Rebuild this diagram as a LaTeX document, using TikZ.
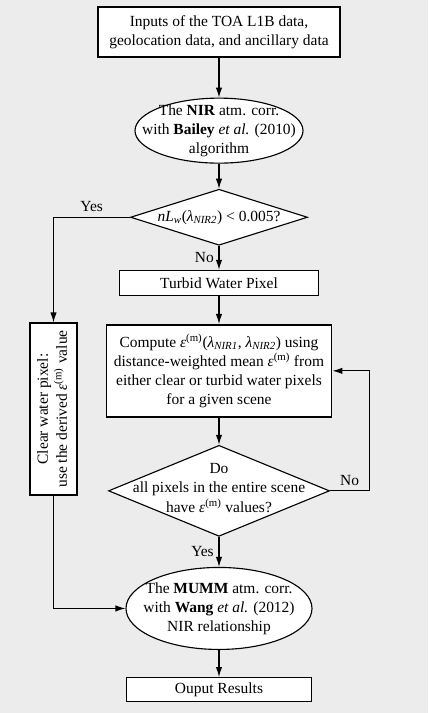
\documentclass[tikz,border=0pt]{standalone}
\usepackage{fontspec}
\setmainfont{Liberation Serif}
\usepackage{graphicx}
\usetikzlibrary{arrows.meta,positioning,shapes.geometric}
\newcommand{\epsm}{\textit{ε}\textsuperscript{(m)}}
\newcommand{\lnir}[1]{\textit{λ}\textsubscript{\textit{NIR#1}}}
\definecolor{pagegray}{RGB}{236,236,236}
\tikzset{
  flowbox/.style={
    draw,fill=white,line width=0.8pt,align=center,inner sep=2pt
  },
  ovalbox/.style={draw,fill=white,ellipse,line width=0.8pt},
  askbox/.style={draw,fill=white,diamond,line width=0.8pt},
  inlabel/.style={align=center,inner sep=0pt},
  flowarrow/.style={-{Latex[length=2.5mm,width=1.6mm]},line width=0.8pt}
}

\begin{document}
\begin{tikzpicture}[node distance=6mm,font=\fontsize{11}{13.6}\selectfont]
  \fill[pagegray] (0,0) rectangle (10.7,-17.825);
  \useasboundingbox (0,0) rectangle (10.7,-17.825);
  \node[flowbox,minimum width=6.05cm,minimum height=1.25cm] (inputs) at (5.475,-0.8)
    {Inputs of the TOA L1B data,\\geolocation data, and ancillary data};
  \node[ovalbox,minimum width=4.2cm,minimum height=1.625cm,below=10mm of inputs,
    label={[inlabel]center:{The \textbf{NIR} atm. corr.\\with \textbf{Bailey} \textit{et al.} (2010)\\algorithm}}] (nir) {};
  \node[askbox,minimum width=4.425cm,minimum height=1.4cm,below=6.25mm of nir,
    label={[inlabel]center:{\textit{nL}\textsubscript{\textit{w}}(\lnir{2}) < 0.005?}}] (clearq) {};
  \node[flowbox,minimum width=4.975cm,minimum height=0.625cm,below=6mm of clearq] (turbid)
    {Turbid Water Pixel};
  \node[flowbox,line width=1.3pt,minimum width=5.625cm,minimum height=2.3cm,below=7mm of turbid] (compute)
    {Compute \epsm(\lnir{1}, \lnir{2}) using\\distance-weighted mean \epsm{} from\\either clear or turbid water pixels\\for a given scene};
  \node[askbox,minimum width=5.525cm,minimum height=2.275cm,below=6.75mm of compute,
    label={[inlabel,yshift=2pt]center:{Do\\all pixels in the entire scene\\have \epsm{} values?}}] (doneq) {};
  \node[ovalbox,minimum width=4.65cm,minimum height=2.05cm,below=7.5mm of doneq,
    label={[inlabel]center:{The \textbf{MUMM} atm. corr.\\with \textbf{Wang} \textit{et al.} (2012)\\NIR relationship}}] (mumm) {};
  \node[flowbox,minimum width=4.625cm,minimum height=0.6cm,below=6.75mm of mumm] (output)
    {Ouput Results};
  \node[flowbox,minimum width=1.175cm,minimum height=4.3cm] (clearpix) at (1.3375,-10.225)
    {\rotatebox{90}{\begin{tabular}{@{}c@{}}Clear water pixel:\\use the derived \epsm{} value\end{tabular}}};
  \draw[flowarrow] (inputs)--(nir);
  \draw[flowarrow] (nir)--(clearq);
  \draw[flowarrow] (clearq)--node[left] {No} (turbid);
  \draw[flowarrow] (turbid)--(compute);
  \draw[flowarrow] (compute)--(doneq);
  \draw[flowarrow] (doneq)--node[left] {Yes} (mumm);
  \draw[flowarrow] (mumm)--(output);
  \draw[flowarrow] (clearq.west) -| node[pos=0.25,above] {Yes} (clearpix.north);
  \draw[flowarrow] (clearpix.south) |- (mumm.west);
  \draw[flowarrow] (doneq.east) -- ++(0.975,0) node[pos=0.5,above] {No} |- (compute.east);
\end{tikzpicture}
\end{document}
